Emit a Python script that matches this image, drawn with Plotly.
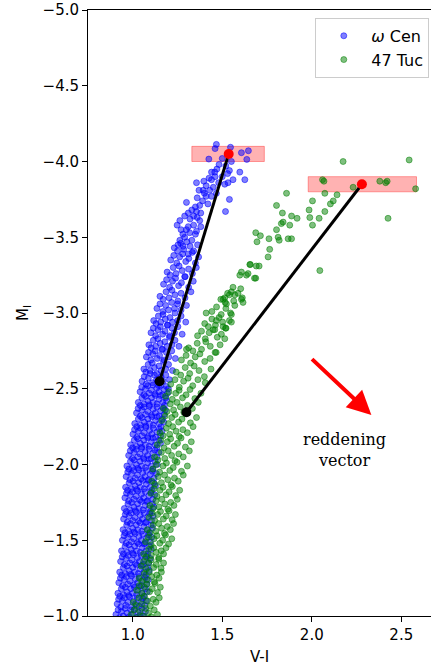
import plotly.graph_objects as go

# ---------------- omega Cen (blue) : dense lower rows ----------------
omega_x_dense = [
    .906,.918,.926,.937,.947,.957,.969,.979,.989,.998,1.010,1.020,1.030,1.041,1.051,1.061,1.071,
    .913,.921,.933,.942,.953,.962,.974,.983,.995,1.004,1.015,1.026,1.035,1.047,1.056,1.068,1.076,
    .917,.928,.936,.948,.958,.967,.978,.989,.999,1.009,1.021,1.030,1.041,1.052,1.062,1.072,1.081,
    .922,.931,.943,.952,.964,.973,.985,.994,1.006,1.015,1.027,1.036,1.048,1.057,1.069,1.078,1.087,
    .927,.938,.947,.958,.968,.979,.989,1.000,1.010,1.021,1.031,1.042,1.052,1.063,1.073,1.083,1.092,
    .932,.941,.953,.962,.974,.984,.995,1.005,1.016,1.026,1.037,1.047,1.058,1.068,1.079,1.089,1.098,
    .937,.948,.957,.969,.979,.990,1.000,1.011,1.021,1.032,1.042,1.053,1.063,1.074,1.084,1.095,1.103,
    .942,.951,.963,.972,.984,.993,1.005,1.014,1.026,1.035,1.047,1.056,1.068,1.077,1.089,1.098,1.106,
    .946,.957,.966,.978,.987,.999,1.008,1.020,1.029,1.041,1.050,1.062,1.071,1.083,1.092,1.103,1.110,
    .949,.958,.970,.979,.991,1.000,1.012,1.021,1.033,1.042,1.054,1.063,1.075,1.084,1.096,1.105,1.114,
    .953,.964,.973,.985,.994,1.006,1.015,1.027,1.036,1.048,1.057,1.069,1.078,1.090,1.099,1.110,1.118,
    .956,.965,.977,.986,.998,1.007,1.019,1.028,1.040,1.049,1.061,1.070,1.082,1.091,1.103,1.112,1.123,
    .960,.971,.980,.992,1.001,1.013,1.022,1.034,1.043,1.055,1.064,1.076,1.085,1.097,1.106,1.117,1.127,
    .963,.972,.984,.993,1.005,1.014,1.026,1.035,1.047,1.056,1.068,1.077,1.089,1.098,1.110,1.119,1.132,
    .967,.978,.987,.999,1.008,1.020,1.029,1.041,1.050,1.062,1.071,1.083,1.092,1.104,1.113,1.125,1.137,
    .977,.986,.998,1.007,1.019,1.028,1.040,1.049,1.061,1.070,1.082,1.091,1.103,1.112,1.124,1.135,1.146,
    .988,.999,1.008,1.020,1.029,1.041,1.050,1.062,1.071,1.083,1.092,1.104,1.113,1.125,1.134,1.146,1.155,
    1.001,1.010,1.022,1.031,1.043,1.052,1.064,1.073,1.085,1.094,1.106,1.115,1.127,1.136,1.148,1.156,1.164,
    1.011,1.022,1.031,1.043,1.052,1.064,1.073,1.085,1.094,1.106,1.115,1.127,1.136,1.148,1.157,1.166,1.173,
    1.021,1.030,1.042,1.051,1.063,1.072,1.084,1.093,1.105,1.114,1.126,1.135,1.147,1.156,1.168,1.176,1.182,
    1.031,1.042,1.051,1.063,1.072,1.084,1.093,1.105,1.114,1.126,1.135,1.147,1.156,1.168,1.177,1.184,1.189,
    1.041,1.050,1.062,1.071,1.083,1.092,1.104,1.113,1.125,1.134,1.146,1.155,1.167,1.176,1.188,1.194,1.199,
]
omega_y_dense = [
    -1.01,-1.04,-0.99,-1.03,-1.00,-1.05,-1.02,-0.995,-1.04,-1.01,-1.045,-0.99,-1.025,-1.005,-1.05,-1.00,-1.03,
    -1.08,-1.11,-1.06,-1.10,-1.12,-1.07,-1.09,-1.125,-1.06,-1.10,-1.08,-1.12,-1.065,-1.095,-1.115,-1.07,-1.10,
    -1.15,-1.13,-1.18,-1.14,-1.19,-1.16,-1.135,-1.18,-1.15,-1.19,-1.14,-1.17,-1.195,-1.15,-1.13,-1.18,-1.16,
    -1.22,-1.25,-1.20,-1.24,-1.26,-1.21,-1.23,-1.265,-1.205,-1.245,-1.22,-1.26,-1.20,-1.235,-1.255,-1.21,-1.24,
    -1.29,-1.27,-1.32,-1.28,-1.33,-1.30,-1.275,-1.32,-1.29,-1.335,-1.28,-1.31,-1.335,-1.29,-1.27,-1.32,-1.30,
    -1.36,-1.39,-1.34,-1.38,-1.40,-1.35,-1.37,-1.405,-1.345,-1.385,-1.36,-1.40,-1.34,-1.375,-1.395,-1.35,-1.38,
    -1.43,-1.41,-1.46,-1.42,-1.47,-1.44,-1.415,-1.46,-1.43,-1.475,-1.42,-1.45,-1.475,-1.43,-1.41,-1.46,-1.44,
    -1.50,-1.53,-1.48,-1.52,-1.54,-1.49,-1.51,-1.545,-1.485,-1.525,-1.50,-1.54,-1.48,-1.515,-1.535,-1.49,-1.52,
    -1.57,-1.55,-1.60,-1.56,-1.61,-1.58,-1.555,-1.60,-1.57,-1.615,-1.56,-1.59,-1.615,-1.57,-1.55,-1.60,-1.58,
    -1.64,-1.67,-1.62,-1.66,-1.68,-1.63,-1.65,-1.685,-1.625,-1.665,-1.64,-1.68,-1.62,-1.655,-1.675,-1.63,-1.66,
    -1.71,-1.69,-1.74,-1.70,-1.75,-1.72,-1.695,-1.74,-1.71,-1.755,-1.70,-1.73,-1.755,-1.71,-1.69,-1.74,-1.72,
    -1.78,-1.81,-1.76,-1.80,-1.82,-1.77,-1.79,-1.825,-1.765,-1.805,-1.78,-1.82,-1.76,-1.795,-1.815,-1.77,-1.80,
    -1.85,-1.83,-1.88,-1.84,-1.89,-1.86,-1.835,-1.88,-1.85,-1.895,-1.84,-1.87,-1.895,-1.85,-1.83,-1.88,-1.86,
    -1.92,-1.95,-1.90,-1.94,-1.96,-1.91,-1.93,-1.965,-1.905,-1.945,-1.92,-1.96,-1.90,-1.935,-1.955,-1.91,-1.94,
    -1.99,-1.97,-2.02,-1.98,-2.03,-2.00,-1.975,-2.02,-1.99,-2.035,-1.98,-2.01,-2.035,-1.99,-1.97,-2.02,-2.00,
    -2.06,-2.09,-2.04,-2.08,-2.10,-2.05,-2.07,-2.105,-2.045,-2.085,-2.06,-2.10,-2.04,-2.075,-2.095,-2.05,-2.08,
    -2.13,-2.11,-2.16,-2.12,-2.17,-2.14,-2.115,-2.16,-2.13,-2.175,-2.12,-2.15,-2.175,-2.13,-2.11,-2.16,-2.14,
    -2.20,-2.23,-2.18,-2.22,-2.24,-2.19,-2.21,-2.245,-2.185,-2.225,-2.20,-2.24,-2.18,-2.215,-2.235,-2.19,-2.22,
    -2.27,-2.25,-2.30,-2.26,-2.31,-2.28,-2.255,-2.30,-2.27,-2.315,-2.26,-2.29,-2.315,-2.27,-2.25,-2.30,-2.28,
    -2.34,-2.37,-2.32,-2.36,-2.38,-2.33,-2.35,-2.385,-2.325,-2.365,-2.34,-2.38,-2.32,-2.355,-2.375,-2.33,-2.36,
    -2.41,-2.39,-2.44,-2.40,-2.45,-2.42,-2.395,-2.44,-2.41,-2.455,-2.40,-2.43,-2.455,-2.41,-2.39,-2.44,-2.42,
    -2.48,-2.51,-2.46,-2.50,-2.52,-2.47,-2.49,-2.525,-2.465,-2.505,-2.48,-2.52,-2.46,-2.495,-2.515,-2.47,-2.50,
]

# ---------------- omega Cen : middle rows ----------------
omega_x_mid = [
    1.052,1.064,1.075,1.087,1.098,1.110,1.121,1.133,1.145,1.158,1.170,1.185,1.205,
    1.062,1.073,1.086,1.097,1.109,1.121,1.134,1.146,1.158,1.171,1.184,1.200,1.222,
    1.076,1.088,1.101,1.112,1.125,1.137,1.150,1.162,1.175,1.188,1.201,1.218,1.238,
    1.090,1.103,1.115,1.128,1.140,1.153,1.166,1.179,1.192,1.205,1.219,1.236,1.258,
    1.102,1.115,1.128,1.141,1.154,1.167,1.180,1.193,1.206,1.219,1.233,1.252,1.276,
    1.117,1.130,1.143,1.156,1.169,1.182,1.195,1.208,1.222,1.236,1.251,1.270,1.296,
    1.135,1.152,1.168,1.184,1.200,1.217,1.233,1.250,1.270,1.300,
    1.152,1.170,1.186,1.203,1.219,1.236,1.252,1.270,1.292,1.325,
    1.172,1.189,1.206,1.222,1.239,1.256,1.272,1.290,1.312,1.338,
    1.192,1.209,1.226,1.242,1.259,1.276,1.293,1.312,1.333,1.355,
    1.212,1.229,1.246,1.262,1.279,1.296,1.313,1.332,1.350,1.368,
    1.232,1.250,1.268,1.285,1.302,1.320,1.340,1.362,
]
omega_y_mid = [
    -2.55,-2.58,-2.53,-2.57,-2.60,-2.54,-2.59,-2.56,-2.52,-2.58,-2.55,-2.59,-2.56,
    -2.63,-2.61,-2.66,-2.62,-2.67,-2.64,-2.60,-2.65,-2.62,-2.68,-2.63,-2.66,-2.62,
    -2.71,-2.74,-2.69,-2.73,-2.75,-2.70,-2.72,-2.76,-2.69,-2.74,-2.71,-2.75,-2.70,
    -2.79,-2.77,-2.82,-2.78,-2.83,-2.80,-2.76,-2.81,-2.78,-2.84,-2.79,-2.82,-2.78,
    -2.87,-2.90,-2.85,-2.89,-2.91,-2.86,-2.88,-2.92,-2.85,-2.90,-2.87,-2.91,-2.86,
    -2.95,-2.93,-2.98,-2.94,-2.99,-2.96,-2.92,-2.97,-2.94,-3.00,-2.95,-2.98,-2.94,
    -3.03,-3.06,-3.01,-3.05,-3.02,-3.07,-3.03,-3.06,-3.02,-3.05,
    -3.11,-3.09,-3.14,-3.10,-3.15,-3.12,-3.08,-3.13,-3.10,-3.14,
    -3.19,-3.22,-3.17,-3.21,-3.23,-3.18,-3.20,-3.24,-3.17,-3.21,
    -3.27,-3.25,-3.30,-3.26,-3.31,-3.28,-3.24,-3.29,-3.26,-3.30,
    -3.35,-3.38,-3.33,-3.37,-3.39,-3.34,-3.36,-3.40,-3.33,-3.37,
    -3.43,-3.41,-3.46,-3.42,-3.47,-3.44,-3.41,-3.45,
]

# ---------------- omega Cen : sparse upper giant branch ----------------
omega_sparse = [
    (1.253,-3.45),(1.28,-3.44),(1.31,-3.39),(1.263,-3.48),(1.33,-3.48),(1.356,-3.54),(1.318,-3.53),
    (1.31,-3.57),(1.248,-3.58),(1.263,-3.61),(1.374,-3.61),(1.34,-3.64),(1.356,-3.67),(1.374,-3.71),
    (1.30,-3.73),(1.41,-3.77),(1.518,-3.67),(1.54,-3.75),(1.393,-3.81),(1.43,-3.81),(1.467,-3.79),
    (1.532,-3.86),(1.514,-3.85),(1.426,-3.89),(1.356,-3.86),(1.397,-3.87),(1.44,-3.93),(1.458,-3.93),
    (1.54,-3.94),(1.56,-3.88),(1.626,-3.88),(1.598,-3.93),(1.551,-4.0),(1.482,-3.98),(1.425,-4.016),
    (1.637,-4.014),(1.646,-4.071),(1.607,-4.058),(1.546,-4.094),(1.46,-4.085),(1.467,-4.113),
    (1.29,-3.50),(1.30,-3.55),(1.28,-3.52),(1.34,-3.58),(1.32,-3.62),(1.29,-3.64),(1.36,-3.63),
    (1.33,-3.68),(1.35,-3.70),(1.38,-3.66),(1.39,-3.74),(1.42,-3.72),(1.36,-3.76),(1.40,-3.79),
    (1.45,-3.83),(1.44,-3.77),(1.48,-3.86),(1.50,-3.90),(1.47,-3.95),(1.52,-3.97),(1.50,-4.02),
    (1.44,-3.88),(1.41,-3.84),(1.53,-3.92),(1.38,-3.57),(1.35,-3.52),(1.27,-3.55),(1.31,-3.66),
    (1.37,-3.81),(1.46,-3.90),
]

# ---------------- 47 Tuc (green) : rows ----------------
tuc_x_dense = [
    0.992,1.008,1.024,1.040,1.056,1.072,1.088,1.104,1.120,1.138,
    1.003,1.019,1.035,1.051,1.066,1.082,1.098,1.114,1.130,1.148,
    1.022,1.036,1.051,1.065,1.080,1.094,1.109,1.124,1.139,1.154,
    1.036,1.050,1.064,1.078,1.092,1.106,1.120,1.134,1.147,1.160,
    1.047,1.061,1.075,1.089,1.103,1.117,1.131,1.145,1.158,1.172,
    1.061,1.075,1.089,1.103,1.117,1.131,1.145,1.159,1.172,1.186,
    1.071,1.087,1.103,1.119,1.135,1.151,1.167,1.183,1.200,1.218,
    1.081,1.097,1.113,1.129,1.145,1.161,1.177,1.193,1.210,1.228,
    1.091,1.107,1.123,1.139,1.155,1.171,1.187,1.203,1.220,1.238,
    1.096,1.113,1.130,1.146,1.163,1.179,1.196,1.212,1.230,1.249,
    1.101,1.118,1.135,1.152,1.169,1.186,1.203,1.221,1.240,1.262,
    1.106,1.124,1.142,1.160,1.178,1.196,1.214,1.233,1.254,1.282,
    1.112,1.131,1.150,1.169,1.188,1.207,1.226,1.247,1.272,1.305,
    1.122,1.141,1.160,1.179,1.198,1.217,1.236,1.257,1.282,1.316,
    1.137,1.156,1.175,1.193,1.212,1.231,1.250,1.270,1.294,1.327,
    1.152,1.170,1.188,1.206,1.224,1.242,1.260,1.280,1.305,1.337,
    1.162,1.181,1.200,1.218,1.237,1.256,1.275,1.296,1.322,1.356,
    1.172,1.191,1.210,1.228,1.247,1.266,1.285,1.306,1.333,1.366,
    1.183,1.202,1.221,1.240,1.259,1.278,1.298,1.320,1.347,1.381,
    1.212,1.236,1.260,1.284,1.309,1.335,1.364,1.405,
    1.243,1.268,1.293,1.318,1.343,1.370,1.400,1.437,
    1.272,1.298,1.323,1.349,1.375,1.402,1.432,1.466,
    1.312,1.336,1.360,1.384,1.408,1.433,1.460,1.488,
    1.362,1.384,1.405,1.427,1.449,1.472,1.495,1.518,
    1.402,1.422,1.442,1.462,1.482,1.502,1.521,1.540,
    1.442,1.468,1.494,1.520,1.546,1.570,
    1.492,1.516,1.540,1.564,1.588,1.612,
]
tuc_y_dense = [
    -1.01,-1.04,-0.99,-1.03,-1.00,-1.05,-1.02,-0.995,-1.04,-1.01,
    -1.09,-1.07,-1.12,-1.08,-1.13,-1.10,-1.065,-1.11,-1.09,-1.12,
    -1.17,-1.20,-1.15,-1.19,-1.21,-1.16,-1.18,-1.215,-1.155,-1.19,
    -1.25,-1.23,-1.28,-1.24,-1.29,-1.26,-1.225,-1.27,-1.25,-1.29,
    -1.33,-1.36,-1.31,-1.35,-1.37,-1.32,-1.34,-1.375,-1.315,-1.35,
    -1.41,-1.39,-1.44,-1.40,-1.45,-1.42,-1.385,-1.43,-1.41,-1.45,
    -1.49,-1.52,-1.47,-1.51,-1.53,-1.48,-1.50,-1.535,-1.475,-1.51,
    -1.57,-1.55,-1.60,-1.56,-1.61,-1.58,-1.545,-1.59,-1.57,-1.61,
    -1.65,-1.68,-1.63,-1.67,-1.69,-1.64,-1.66,-1.695,-1.635,-1.67,
    -1.73,-1.71,-1.76,-1.72,-1.77,-1.74,-1.705,-1.75,-1.73,-1.77,
    -1.81,-1.84,-1.79,-1.83,-1.85,-1.80,-1.82,-1.855,-1.795,-1.83,
    -1.89,-1.87,-1.92,-1.88,-1.93,-1.90,-1.865,-1.91,-1.89,-1.93,
    -1.97,-2.00,-1.95,-1.99,-2.01,-1.96,-1.98,-2.015,-1.955,-1.99,
    -2.05,-2.03,-2.08,-2.04,-2.09,-2.06,-2.025,-2.07,-2.05,-2.09,
    -2.13,-2.16,-2.11,-2.15,-2.17,-2.12,-2.14,-2.175,-2.115,-2.15,
    -2.21,-2.19,-2.24,-2.20,-2.25,-2.22,-2.185,-2.23,-2.21,-2.25,
    -2.29,-2.32,-2.27,-2.31,-2.33,-2.28,-2.30,-2.335,-2.275,-2.31,
    -2.37,-2.35,-2.40,-2.36,-2.41,-2.38,-2.345,-2.39,-2.37,-2.41,
    -2.45,-2.48,-2.43,-2.47,-2.49,-2.44,-2.46,-2.495,-2.435,-2.47,
    -2.53,-2.56,-2.51,-2.55,-2.57,-2.52,-2.56,-2.54,
    -2.61,-2.59,-2.64,-2.60,-2.65,-2.62,-2.58,-2.63,
    -2.69,-2.72,-2.67,-2.71,-2.73,-2.68,-2.70,-2.74,
    -2.77,-2.75,-2.80,-2.76,-2.81,-2.78,-2.74,-2.79,
    -2.85,-2.88,-2.83,-2.87,-2.89,-2.84,-2.86,-2.90,
    -2.93,-2.91,-2.96,-2.92,-2.97,-2.94,-2.90,-2.95,
    -3.01,-3.04,-2.99,-3.03,-3.00,-3.05,
    -3.09,-3.07,-3.12,-3.08,-3.13,-3.10,
]

# ---------------- 47 Tuc : sparse upper giant branch ----------------
tuc_sparse = [
    (1.514,-3.10),(1.551,-3.14),(1.57,-3.12),(1.56,-3.17),(1.607,-3.09),(1.598,-3.25),(1.644,-3.26),
    (1.687,-3.23),(1.657,-3.32),(1.706,-3.31),(1.756,-3.37),(1.765,-3.42),(1.687,-3.53),(1.713,-3.51),
    (1.694,-3.47),(1.761,-3.49),(1.803,-3.55),(1.812,-3.50),(1.818,-3.48),(1.868,-3.49),(1.887,-3.49),
    (1.83,-3.59),(1.84,-3.60),(1.877,-3.58),(1.803,-3.71),(1.836,-3.66),(1.887,-3.64),(1.918,-3.625),
    (1.859,-3.79),(1.985,-3.68),(1.989,-3.63),(2.041,-3.625),(2.004,-3.58),(2.073,-3.67),(2.104,-3.72),
    (2.12,-3.74),(2.004,-3.74),(2.073,-3.79),(2.141,-3.78),(2.06,-3.88),(2.068,-3.87),(2.231,-3.83),
    (2.38,-3.87),(2.413,-3.86),(2.421,-3.87),(2.58,-3.82),(2.175,-4.0),(2.544,-4.01),(2.426,-3.625),
    (2.045,-3.28),(1.603,-3.16),(1.654,-3.32),(1.69,-3.31),(1.607,-3.27),(1.635,-3.25),(1.68,-3.23),
    (1.53,-3.13),(1.505,-3.09),(1.523,-3.06),(1.616,-3.07),(1.41,-3.0),(1.467,-2.95),(1.551,-2.99),
    (1.551,-2.94),(1.458,-2.89),(1.505,-2.91),(1.514,-2.83),(1.30,-2.76),
]

# ---------------- tip boxes, tip points, base points, reddening vector ----------------
box_x0 = [1.33, 1.98]
box_x1 = [1.735, 2.585]
box_y0 = [-4.1, -3.9]
box_y1 = [-4.0, -3.8]
tip_x = [1.536, 2.28]
tip_y = [-4.05, -3.85]
base_x = [1.15, 1.30]
base_y = [-2.55, -2.345]
vec_start = (1.993, -2.705)
vec_end = (2.333, -2.327)
label_pos = (2.181, -2.096)

x_ticks = [1.0, 1.5, 2.0, 2.5]
y_ticks = [-5.0, -4.5, -4.0, -3.5, -3.0, -2.5, -2.0, -1.5, -1.0]
x_range = [0.75, 2.666]
y_range = [-1.0, -5.0]


def fmt(v):
    return f"{v:.1f}".replace("-", "\u2212")


omega_x = omega_x_dense + omega_x_mid + [p[0] for p in omega_sparse]
omega_y = omega_y_dense + omega_y_mid + [p[1] for p in omega_sparse]
tuc_x = tuc_x_dense + [p[0] for p in tuc_sparse]
tuc_y = tuc_y_dense + [p[1] for p in tuc_sparse]

fig = go.Figure()
fig.add_trace(go.Scatter(
    x=omega_x, y=omega_y, mode="markers", name="<i>ω</i> Cen",
    marker=dict(size=6, color="rgba(0,0,255,0.5)", line=dict(color="rgba(0,0,255,0.5)", width=1)),
))
fig.add_trace(go.Scatter(
    x=tuc_x, y=tuc_y, mode="markers", name="47 Tuc",
    marker=dict(size=6, color="rgba(0,128,0,0.5)", line=dict(color="rgba(0,128,0,0.5)", width=1)),
))
for i in range(2):
    fig.add_shape(type="rect", x0=box_x0[i], x1=box_x1[i], y0=box_y0[i], y1=box_y1[i],
                  xref="x", yref="y", fillcolor="rgba(255,0,0,0.3)",
                  line=dict(color="rgba(255,0,0,0.35)", width=1), layer="below")
    fig.add_trace(go.Scatter(x=[base_x[i], tip_x[i]], y=[base_y[i], tip_y[i]], mode="lines",
                             line=dict(color="black", width=3), showlegend=False, hoverinfo="skip"))
fig.add_trace(go.Scatter(x=tip_x, y=tip_y, mode="markers", showlegend=False,
                         marker=dict(size=10, color="red")))
fig.add_trace(go.Scatter(x=base_x, y=base_y, mode="markers", showlegend=False,
                         marker=dict(size=10, color="black")))

fig.add_annotation(x=vec_end[0], y=vec_end[1], ax=vec_start[0], ay=vec_start[1],
                   xref="x", yref="y", axref="x", ayref="y", text="", showarrow=True,
                   arrowhead=2, arrowsize=1.2, arrowwidth=4, arrowcolor="red")
fig.add_annotation(x=label_pos[0], y=label_pos[1], xref="x", yref="y",
                   text="reddening<br>vector", showarrow=False,
                   font=dict(family="DejaVu Serif", size=16, color="black"), align="center")

axis_common = dict(showgrid=False, zeroline=False, showline=True, linecolor="black", linewidth=1,
                   ticks="outside", ticklen=5, tickwidth=1, tickcolor="black",
                   tickfont=dict(family="DejaVu Sans", size=15, color="black"))
fig.update_xaxes(range=x_range, tickvals=x_ticks, ticktext=[fmt(v) for v in x_ticks], mirror=True,
                 title=dict(text="V-I", font=dict(family="DejaVu Sans", size=15, color="black"), standoff=8),
                 **axis_common)
fig.update_yaxes(range=y_range, tickvals=y_ticks, ticktext=[fmt(v) for v in y_ticks], mirror=False,
                 title=dict(text="M<sub>I</sub>", font=dict(family="DejaVu Sans", size=15, color="black"), standoff=10),
                 **axis_common)
fig.update_layout(
    width=431, height=666, margin=dict(l=88, r=0, t=10, b=50),
    paper_bgcolor="white", plot_bgcolor="white", autosize=False,
    legend=dict(x=0.995, y=0.987, xanchor="right", yanchor="top", bgcolor="rgba(255,255,255,0.8)",
                bordercolor="#cccccc", borderwidth=1, itemwidth=45,
                font=dict(family="DejaVu Sans", size=16, color="black")),
    showlegend=True,
)
fig.write_html("out.html")
